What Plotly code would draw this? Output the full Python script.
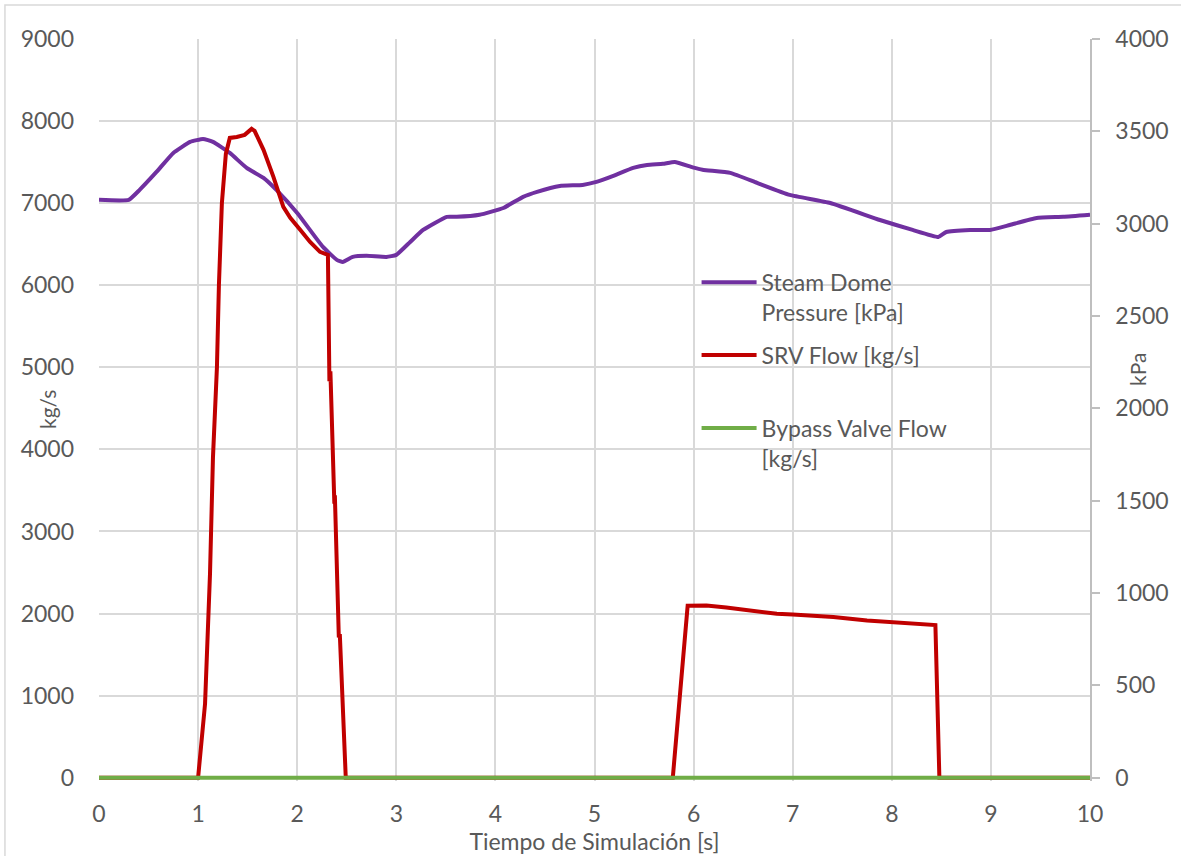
import plotly.graph_objects as go

# ---------------- data ----------------
p_time = [0, 0.3, 0.41, 0.58, 0.75, 0.92, 1.05, 1.15, 1.32, 1.49, 1.66, 1.79, 2.0,
          2.26, 2.40, 2.46, 2.56, 2.70, 2.90, 3.0, 3.14, 3.27, 3.51, 3.61, 3.84,
          4.08, 4.28, 4.42, 4.65, 4.88, 5.02, 5.19, 5.39, 5.53, 5.69, 5.81, 5.99,
          6.09, 6.37, 6.64, 6.97, 7.38, 7.88, 8.21, 8.47, 8.55, 8.79, 8.99, 9.19,
          9.46, 9.73, 10]
p_kpa = [3129, 3129, 3183, 3280, 3383, 3443, 3459, 3443, 3383, 3302, 3248, 3183, 3058,
         2874, 2804, 2793, 2820, 2826, 2820, 2831, 2901, 2966, 3037, 3037, 3048,
         3085, 3145, 3172, 3204, 3210, 3226, 3259, 3302, 3318, 3324, 3334, 3305,
         3292, 3275, 3221, 3156, 3112, 3020, 2966, 2928, 2955, 2966, 2966, 2993,
         3031, 3037, 3048]

srv_time = [0, 1.0, 1.07, 1.12, 1.15, 1.19, 1.21, 1.24, 1.28, 1.32, 1.39, 1.47, 1.54,
            1.57, 1.66, 1.76, 1.86, 1.93, 2.03, 2.13, 2.23, 2.31, 2.325, 2.335,
            2.375, 2.38, 2.42, 2.43, 2.49, 5.79, 5.94, 6.13, 6.33, 6.57, 6.84, 7.0,
            7.41, 7.75, 8.08, 8.42, 8.44, 8.48, 10]
srv_flow = [0, 0, 900, 2480, 3900, 5000, 6000, 7000, 7600, 7795, 7807, 7832, 7905,
            7880, 7649, 7320, 6955, 6821, 6675, 6528, 6407, 6370, 4830, 4950,
            3340, 3440, 1710, 1750, 0, 0, 2095, 2099, 2075, 2034, 1997, 1990,
            1957, 1916, 1884, 1855, 1860, 0, 0]

byp_time = [0, 10]
byp_flow = [0, 0]

names = ["Steam Dome<br>Pressure [kPa]", "SRV Flow [kg/s]<br> ", "Bypass Valve Flow<br>[kg/s]"]
x_ticks = list(range(0, 11))
left_ticks = list(range(0, 9001, 1000))
right_ticks = list(range(0, 4001, 500))

# ---------------- figure ----------------
FONT = "Lato"
TXT = "#595959"
GRID = "#d9d9d9"
LEFT_MIN = -40                      # small pad so the zero-line series is not clipped
RIGHT_MIN = LEFT_MIN * 4000 / 9000

fig = go.Figure()
fig.add_trace(go.Scatter(x=p_time, y=p_kpa, name=names[0], mode="lines",
                         line=dict(color="#7030A0", width=4, shape="spline", smoothing=0.4),
                         yaxis="y", legendrank=1, legendgroup="a"))
fig.add_trace(go.Scatter(x=srv_time, y=srv_flow, name=names[1], mode="lines",
                         line=dict(color="#C00000", width=4),
                         yaxis="y2", legendrank=2, legendgroup="b"))
fig.add_trace(go.Scatter(x=byp_time, y=byp_flow, name=names[2], mode="lines",
                         line=dict(color="#70AD47", width=4),
                         yaxis="y2", legendrank=3, legendgroup="c"))

fig.update_layout(
    width=1181, height=856,
    margin=dict(l=99, r=91, t=39, b=75, autoexpand=False),
    paper_bgcolor="white", plot_bgcolor="white",
    font=dict(family=FONT, size=23, color=TXT),
    xaxis=dict(range=[0, 10], tickvals=x_ticks, showgrid=True, gridcolor=GRID,
               gridwidth=1.5, zeroline=False, showline=False, ticks="",
               ticklabelstandoff=17, automargin=False,
               title=dict(text="Tiempo de Simulación [s]", standoff=2,
                          font=dict(size=23, color=TXT))),
    yaxis=dict(range=[RIGHT_MIN, 4000], tickvals=right_ticks, side="right", showgrid=False,
               zeroline=False, showline=True, linecolor="#bfbfbf", linewidth=1.5,
               ticks="outside", ticklen=8, tickcolor="#bfbfbf", tickwidth=1.5,
               ticklabelstandoff=11, automargin=False),
    yaxis2=dict(range=[LEFT_MIN, 9000], tickvals=left_ticks, side="left", overlaying="y",
                showgrid=True, gridcolor=GRID, gridwidth=1.5, zeroline=False,
                showline=False, ticks="", ticklabelstandoff=24, automargin=False),
    legend=dict(x=0.603, y=0.701, xanchor="left", yanchor="top",
                bgcolor="rgba(0,0,0,0)", valign="top", itemwidth=55,
                tracegroupgap=10, font=dict(size=23, color=TXT),
                traceorder="grouped"),
    showlegend=True,
)

# axis titles placed inside the tick-label columns, as in the original
fig.add_annotation(text="kg/s", xref="paper", yref="paper", x=(47 - 99) / 991,
                   y=(781 - 410) / 742, showarrow=False, textangle=-90,
                   font=dict(size=21, color=TXT), xanchor="center", yanchor="middle")
fig.add_annotation(text="kPa", xref="paper", yref="paper", x=(1138 - 99) / 991,
                   y=(781 - 370) / 742, showarrow=False, textangle=-90,
                   font=dict(size=21, color=TXT), xanchor="center", yanchor="middle")

# light chart-area border
fig.add_shape(type="rect", xref="paper", yref="paper",
              x0=-0.0949, x1=1.2, y0=-0.3, y1=1.0458,
              line=dict(color="#d9d9d9", width=1.5), layer="below")

fig.write_html("out.html", config={"displayModeBar": False},
               post_script="document.body.style.margin='0';document.body.style.overflow='hidden';")
